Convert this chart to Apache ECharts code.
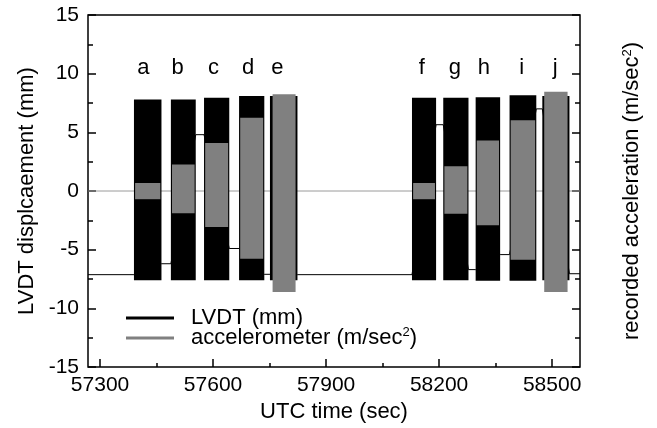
<!DOCTYPE html>
<html><head><meta charset="utf-8">
<script src="https://cdn.jsdelivr.net/npm/echarts@6/dist/echarts.min.js"></script>
<style>html,body{margin:0;padding:0;background:#fff}#chart{width:657px;height:428px}</style>
</head><body><div id="chart"></div>
<script>
const FONT = '"Liberation Sans", Arial, sans-serif';

// x range (UTC seconds) and tick positions
const timeMin = 57268, timeMax = 58574;
const xTickLabels = [57300, 57600, 57900, 58200, 58500];
const xMinorTicks = [57450, 57750, 58050, 58350];

// loading stages a–j
const stageNames = ['a', 'b', 'c', 'd', 'e', 'f', 'g', 'h', 'i', 'j'];
const stageLabelTime = [57415, 57506, 57601, 57693, 57771, 58154, 58242, 58319, 58419, 58508];
const stageLabelLevel = 10.45;
const stageStart = [57390, 57488, 57576, 57669, 57751, 58128, 58211, 58297, 58387, 58474];
const stageEnd   = [57463, 57554, 57643, 57736, 57824, 58192, 58278, 58362, 58458, 58546];

// LVDT envelope during each stage (mm)
const lvdtMax = [7.8, 7.8, 7.95, 8.1, 8.1, 7.95, 7.95, 8.0, 8.15, 8.1];
const lvdtMin = [-7.6, -7.6, -7.6, -7.6, -7.6, -7.6, -7.6, -7.65, -7.65, -7.6];
// LVDT resting level before, between and after the stages (mm)
const lvdtRest = [-7.13, -6.2, 4.8, -4.9, -7.1, -7.13, 5.65, -6.7, -5.42, 7.0, -7.05];

// accelerometer envelope during each stage (m/sec^2)
const accStart = [57393, 57491, 57579, 57672, 57758, 58131, 58214, 58300, 58390, 58479];
const accEnd   = [57460, 57551, 57640, 57733, 57819, 58189, 58275, 58359, 58455, 58541];
const accMax = [0.68, 2.25, 4.1, 6.25, 8.25, 0.68, 2.1, 4.3, 6.03, 8.45];
const accMin = [-0.7, -1.9, -3.07, -5.77, -8.6, -0.7, -1.93, -2.92, -5.87, -8.6];
const accRest = 0;

const LVDT_NAME = 'LVDT (mm)';
const ACC_NAME = 'accelerometer (m/sec2)';
const GREY = '#808080';

// resting trace of the LVDT, stepping between stages
const lvdtTrace = [[timeMin, lvdtRest[0]]];
stageStart.forEach((s, i) => {
  lvdtTrace.push([s, lvdtRest[i]]);
  lvdtTrace.push([stageEnd[i], lvdtRest[i + 1]]);
});
lvdtTrace.push([timeMax, lvdtRest[lvdtRest.length - 1]]);

function band(name, starts, ends, lows, highs, color, z) {
  return {
    type: 'custom', name, z, silent: true,
    encode: { x: [0, 1], y: [2, 3] },
    data: starts.map((s, i) => [s, ends[i], lows[i], highs[i]]),
    renderItem(params, api) {
      const p0 = api.coord([api.value(0), api.value(3)]);
      const p1 = api.coord([api.value(1), api.value(2)]);
      return { type: 'rect', shape: { x: p0[0], y: p0[1], width: p1[0] - p0[0], height: p1[1] - p0[1] }, style: { fill: color } };
    }
  };
}

const supRich = { sup: { fontSize: 13, verticalAlign: 'top', fontFamily: FONT, color: '#000', padding: [0, 0, 8, 0] } };
const tick = (len) => ({ show: true, inside: true, length: len, lineStyle: { color: '#000', width: 1.5 } });

const chart = echarts.init(document.getElementById('chart'), null, { renderer: 'canvas' });
chart.setOption({
  animation: false,
  backgroundColor: '#fff',
  textStyle: { fontFamily: FONT },
  grid: { left: 88, right: 77, top: 15, bottom: 61, show: true, borderColor: '#000', borderWidth: 1.5, backgroundColor: 'transparent' },
  legend: {
    orient: 'vertical', left: 121, top: 301, itemWidth: 48, itemHeight: 3, itemGap: -4,
    icon: 'rect',
    data: [LVDT_NAME, ACC_NAME],
    formatter: n => n.replace('sec2', 'sec{sup|2}'),
    textStyle: { fontFamily: FONT, fontSize: 22, color: '#000', lineHeight: 24, padding: [0, 0, 0, 12], rich: supRich }
  },
  xAxis: [{
    type: 'value', min: timeMin, max: timeMax, position: 'bottom',
    name: 'UTC time (sec)', nameLocation: 'middle', nameGap: 34,
    nameTextStyle: { fontFamily: FONT, fontSize: 22, color: '#000' },
    axisLine: { show: false, onZero: false }, splitLine: { show: false },
    axisTick: Object.assign(tick(8), { customValues: xTickLabels }),
    axisLabel: { customValues: xTickLabels, formatter: v => String(v), fontFamily: FONT, fontSize: 21, color: '#000', margin: 8 }
  }, {
    type: 'value', min: timeMin, max: timeMax, position: 'bottom',
    axisLine: { show: false, onZero: false }, splitLine: { show: false },
    axisTick: Object.assign(tick(4), { customValues: xMinorTicks }),
    axisLabel: { show: false }
  }],
  yAxis: [{
    type: 'value', min: -15, max: 15, interval: 5, position: 'left',
    name: 'LVDT displcaement (mm)', nameLocation: 'middle', nameGap: 48, nameRotate: 90,
    nameTextStyle: { fontFamily: FONT, fontSize: 22, color: '#000' },
    axisLine: { show: false, onZero: false }, splitLine: { show: false },
    axisTick: tick(8),
    minorTick: { show: true, splitNumber: 2, length: 5, lineStyle: { color: '#000', width: 1.5 } },
    axisLabel: { fontFamily: FONT, fontSize: 21, color: '#000', margin: 9 }
  }, {
    type: 'value', min: -15, max: 15, interval: 5, position: 'right',
    name: 'recorded acceleration (m/sec{sup|2})', nameLocation: 'middle', nameGap: 41, nameRotate: 90,
    nameTextStyle: { fontFamily: FONT, fontSize: 22, color: '#000', rich: supRich },
    axisLine: { show: false, onZero: false }, splitLine: { show: false },
    axisTick: tick(8),
    minorTick: { show: true, splitNumber: 2, length: 5, lineStyle: { color: '#000', width: 1.5 } },
    axisLabel: { show: false }
  }],
  series: [
    { type: 'line', name: LVDT_NAME, data: lvdtTrace, symbol: 'none', z: 1,
      lineStyle: { color: '#000', width: 1 }, itemStyle: { color: '#000' } },
    { type: 'line', name: ACC_NAME, data: [[timeMin, accRest], [timeMax, accRest]], symbol: 'none', z: 2,
      lineStyle: { color: '#9a9a9a', width: 1 }, itemStyle: { color: GREY } },
    band('LVDT stages', stageStart, stageEnd, lvdtMin, lvdtMax, '#000', 3),
    band('accelerometer stages', accStart, accEnd, accMin, accMax, GREY, 4),
    {
      type: 'custom', name: 'stage labels', z: 5, silent: true,
      data: stageNames.map((n, i) => [stageLabelTime[i], stageLabelLevel, n]),
      renderItem(params, api) {
        const p = api.coord([api.value(0), api.value(1)]);
        return { type: 'text', x: p[0], y: p[1],
          style: { text: stageNames[params.dataIndex], font: '22px ' + FONT, fill: '#000', align: 'center', verticalAlign: 'middle' } };
      }
    }
  ]
});
</script></body></html>
